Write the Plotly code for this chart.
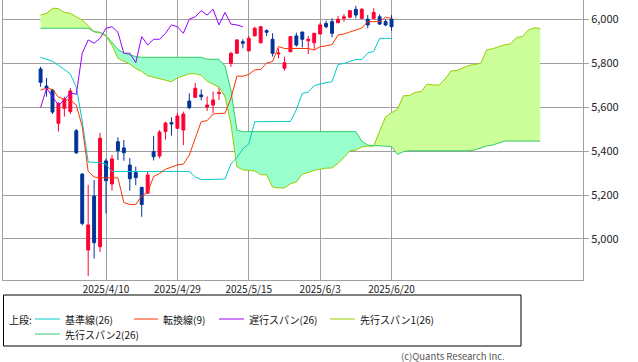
import numpy as np
import plotly.graph_objects as go

# ---------------- data ----------------
tick_idx = [11, 23, 35, 47, 59]
tick_text = ["2025/4/10", "2025/4/29", "2025/5/15", "2025/6/3", "2025/6/20"]

open_ = [5773, 5695, 5677, 5526, 5594, 5579, 5492, 5295, 4950, 5195,
         4965, 5355, 5250, 5442, 5414, 5336, 5303, 5235, 5208, 5397,
         5377, 5489, 5529, 5503, 5495, 5627, 5644, 5655, 5600, 5609,
         5661, 5677, 5799, 5844, 5897, 5855, 5923, 5892, 5947, 5908,
         5841, 5776, 5851, 5923, 5941, 5901, 5892, 5932, 5980, 5988,
         5983, 6003, 6008, 6044, 6003, 5999, 6003, 6010, 5988, 6000]
high = [5783, 5732, 5682, 5620, 5647, 5686, 5500, 5299, 5246, 5268,
        5482, 5366, 5382, 5462, 5450, 5368, 5329, 5236, 5305, 5468,
        5495, 5533, 5553, 5573, 5579, 5662, 5709, 5680, 5648, 5670,
        5715, 5689, 5851, 5908, 5908, 5923, 5965, 5968, 5953, 5935,
        5867, 5829, 5923, 5938, 5941, 5923, 5935, 5983, 5992, 6003,
        6014, 6023, 6041, 6059, 6050, 6018, 6049, 6021, 5999, 6018]
low = [5692, 5647, 5568, 5488, 5556, 5568, 5386, 5062, 4832, 4911,
       4941, 5116, 5220, 5359, 5356, 5220, 5245, 5101, 5208, 5357,
       5367, 5452, 5470, 5503, 5427, 5590, 5641, 5630, 5582, 5573,
       5632, 5647, 5783, 5844, 5867, 5855, 5923, 5889, 5923, 5829,
       5821, 5765, 5851, 5874, 5871, 5841, 5859, 5932, 5958, 5917,
       5983, 5988, 6003, 6003, 6003, 5958, 5999, 5973, 5968, 5947]
close = [5712, 5686, 5577, 5617, 5635, 5673, 5392, 5071, 5064, 4983,
         5458, 5265, 5364, 5401, 5392, 5274, 5279, 5157, 5291, 5374,
         5486, 5527, 5523, 5559, 5568, 5597, 5685, 5647, 5609, 5632,
         5665, 5657, 5844, 5905, 5890, 5912, 5958, 5965, 5940, 5844,
         5845, 5801, 5920, 5882, 5908, 5908, 5935, 5973, 5965, 5935,
         5999, 6010, 6038, 6018, 6044, 5973, 6030, 5977, 5973, 5965]

kijun = [5826, 5818, 5808, 5790, 5770, 5750, 5690, 5536, 5350, 5347,
         5347, 5340, 5307, 5307, 5307, 5307, 5307, 5307, 5307, 5307,
         5307, 5307, 5307, 5307, 5307, 5307, 5282, 5270, 5270, 5270,
         5273, 5273, 5341, 5370, 5409, 5432, 5533, 5534, 5534, 5534,
         5534, 5534, 5534, 5588, 5662, 5667, 5697, 5705, 5709, 5715,
         5793, 5798, 5807, 5816, 5816, 5845, 5853, 5912, 5912, 5912]
tenkan = [5677, 5685, 5680, 5645, 5635, 5630, 5609, 5511, 5307, 5282,
          5278, 5278, 5278, 5278, 5166, 5157, 5157, 5196, 5211, 5284,
          5298, 5317, 5327, 5337, 5340, 5381, 5458, 5533, 5538, 5568,
          5571, 5571, 5639, 5740, 5740, 5748, 5769, 5770, 5800, 5807,
          5875, 5866, 5866, 5866, 5866, 5866, 5859, 5874, 5878, 5884,
          5927, 5932, 5941, 5950, 5959, 5988, 5988, 5988, 6008, 6003]
chikou = [5597, 5685, 5647, 5609, 5632, 5665, 5657, 5844, 5905, 5890,
          5912, 5958, 5965, 5940, 5844, 5845, 5801, 5920, 5882, 5908,
          5908, 5935, 5973, 5965, 5935, 5999, 6010, 6038, 6018, 6044,
          5973, 6030, 5977, 5973, 5965]
span_a = [6018, 6026, 6049, 6047, 6030, 6026, 6010, 5995, 5970, 5942,
          5937, 5922, 5880, 5821, 5808, 5795, 5775, 5762, 5742, 5735,
          5728, 5720, 5715, 5732, 5740, 5751, 5751, 5744, 5717, 5702,
          5690, 5649, 5523, 5328, 5314, 5312, 5309, 5292, 5292, 5236,
          5232, 5232, 5251, 5259, 5295, 5302, 5312, 5317, 5322, 5323,
          5344, 5370, 5401, 5404, 5419, 5422, 5422, 5490, 5555, 5574,
          5590, 5651, 5652, 5667, 5670, 5704, 5700, 5700, 5727, 5764,
          5766, 5778, 5789, 5793, 5799, 5860, 5865, 5874, 5883, 5887,
          5916, 5920, 5950, 5960, 5957]
span_b = [5958, 5958, 5958, 5958, 5958, 5958, 5958, 5958, 5958, 5942,
          5940, 5925, 5893, 5862, 5845, 5836, 5829, 5826, 5826, 5826,
          5826, 5826, 5826, 5826, 5826, 5826, 5826, 5826, 5817, 5817,
          5817, 5786, 5677, 5495, 5488, 5488, 5488, 5488, 5488, 5488,
          5488, 5488, 5488, 5488, 5488, 5488, 5488, 5488, 5488, 5488,
          5488, 5488, 5488, 5488, 5445, 5427, 5425, 5425, 5422, 5420,
          5385, 5397, 5401, 5401, 5401, 5401, 5401, 5401, 5401, 5401,
          5401, 5401, 5401, 5405, 5415, 5423, 5427, 5436, 5445, 5445,
          5445, 5445, 5445, 5445, 5445]

legend_labels = ["基準線(26)", "転換線(9)", "遅行スパン(26)", "先行スパン1(26)", "先行スパン2(26)"]

# ---------------- styles ----------------
C_KIJUN = "#00cccc"
C_TENKAN = "#ff3300"
C_CHIKOU = "#9900ff"
C_SPAN_A = "#99cc00"
C_SPAN_B = "#33cc66"
FILL_A = "#ccff99"
FILL_B = "#99ffcc"
C_UP = "#ff0033"
C_DN = "#003399"
GRID = "#a0a0a0"
FONT = "Noto Sans CJK JP"

W, H = 638, 362
ML, MR, MT, MB = 3, 55, 0, 82
PW, PH = W - ML - MR, H - MT - MB


def px(x):
    return (x - ML) / PW


def py(y):
    return (MT + PH - y) / PH


xi = np.arange(len(close))
xk = np.arange(len(span_a))
xc = np.arange(len(chikou))
A = np.array(span_a, dtype=float)
B = np.array(span_b, dtype=float)
top = np.maximum(A, B)

fig = go.Figure()
noline = dict(width=0)
fig.add_trace(go.Scatter(x=xk, y=B, mode="lines", line=noline, hoverinfo="skip", showlegend=False))
fig.add_trace(go.Scatter(x=xk, y=top, mode="lines", line=noline, fill="tonexty",
                         fillcolor=FILL_A, hoverinfo="skip", showlegend=False))
fig.add_trace(go.Scatter(x=xk, y=A, mode="lines", line=noline, hoverinfo="skip", showlegend=False))
fig.add_trace(go.Scatter(x=xk, y=top, mode="lines", line=noline, fill="tonexty",
                         fillcolor=FILL_B, hoverinfo="skip", showlegend=False))
fig.add_trace(go.Scatter(x=xk, y=A, mode="lines", line=dict(color=C_SPAN_A, width=1), showlegend=False))
fig.add_trace(go.Scatter(x=xk, y=B, mode="lines", line=dict(color=C_SPAN_B, width=1), showlegend=False))
fig.add_trace(go.Scatter(x=xi, y=kijun, mode="lines", line=dict(color=C_KIJUN, width=1), showlegend=False))
fig.add_trace(go.Scatter(x=xi, y=tenkan, mode="lines", line=dict(color=C_TENKAN, width=1), showlegend=False))
fig.add_trace(go.Scatter(x=xc, y=chikou, mode="lines", line=dict(color=C_CHIKOU, width=1), showlegend=False))
fig.add_trace(go.Candlestick(x=xi, open=open_, high=high, low=low, close=close,
                             increasing=dict(line=dict(color=C_UP, width=1), fillcolor=C_UP),
                             decreasing=dict(line=dict(color=C_DN, width=1), fillcolor=C_DN),
                             whiskerwidth=0, showlegend=False))

fig.update_layout(
    width=W, height=H,
    margin=dict(l=ML, r=MR, t=MT, b=MB),
    paper_bgcolor="white", plot_bgcolor="white",
    font=dict(family=FONT, size=10, color="#222"),
    showlegend=False,
    boxgap=0.3,
    xaxis=dict(range=[-6.32, 91.19], tickvals=tick_idx, ticktext=tick_text,
               showgrid=True, gridcolor=GRID, gridwidth=1, zeroline=False,
               showline=True, linecolor=GRID, linewidth=1, mirror=True,
               ticks="", tickfont=dict(size=10, family=FONT, color="#222"),
               rangeslider=dict(visible=False), automargin=False),
    yaxis=dict(range=[4813.6, 6086.4], side="right", tick0=5000, dtick=200,
               tickformat=",d", showgrid=True, gridcolor=GRID, gridwidth=1,
               zeroline=False, showline=True, linecolor=GRID, linewidth=1, mirror=True,
               ticks="outside", ticklen=5, tickcolor=GRID,
               tickfont=dict(size=11, family=FONT, color="#222"), automargin=False),
)

# legend box
shapes = [dict(type="rect", xref="paper", yref="paper", x0=px(3.5), x1=px(521), y0=py(295), y1=py(346),
               line=dict(color="black", width=1), fillcolor="rgba(0,0,0,0)")]
ann = [dict(text="上段:", x=px(7), y=py(319))]
row1 = [(35, 60, C_KIJUN, legend_labels[0]), (134, 158, C_TENKAN, legend_labels[1]),
        (219, 244, C_CHIKOU, legend_labels[2]), (330, 355, C_SPAN_A, legend_labels[3])]
for x0, x1, col, lab in row1:
    shapes.append(dict(type="line", xref="paper", yref="paper", x0=px(x0), x1=px(x1),
                       y0=py(319), y1=py(319), line=dict(color=col, width=1)))
    ann.append(dict(text=lab, x=px(x1 + 3), y=py(319)))
shapes.append(dict(type="line", xref="paper", yref="paper", x0=px(35), x1=px(60),
                   y0=py(334), y1=py(334), line=dict(color=C_SPAN_B, width=1)))
ann.append(dict(text=legend_labels[4], x=px(63), y=py(334)))

annotations = []
for a in ann:
    annotations.append(dict(text=a["text"], x=a["x"], y=a["y"], xref="paper", yref="paper",
                            xanchor="left", yanchor="middle", showarrow=False,
                            font=dict(family=FONT, size=10, color="#111")))
annotations.append(dict(text="(c)Quants Research Inc.", x=px(507), y=py(355.5), xref="paper", yref="paper",
                        xanchor="right", yanchor="middle", showarrow=False,
                        font=dict(family=FONT, size=9.5, color="#555")))
fig.update_layout(shapes=shapes, annotations=annotations)

fig.write_html("out.html", config={"displayModeBar": False},
               post_script="document.body.style.margin='0';document.body.style.padding='0';")
